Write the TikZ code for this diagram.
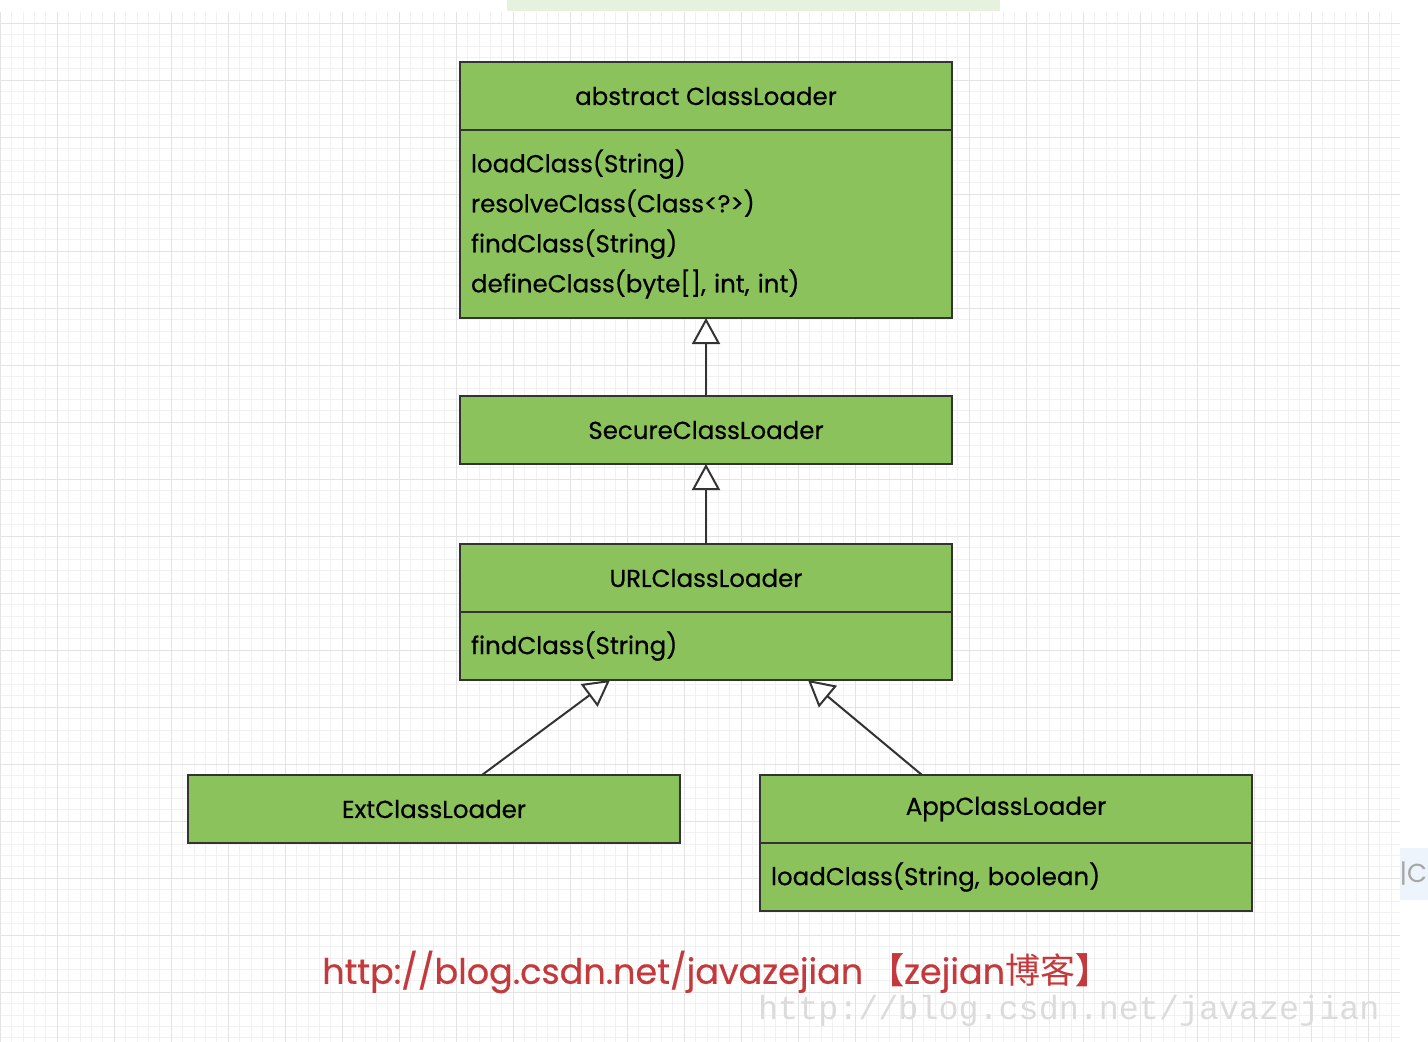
\documentclass[tikz,border=0pt]{standalone}
\usepackage{fontspec}
\setmainfont{Poppins}
\newfontfamily\umlfont{Poppins}[FakeBold=0.5]
\newfontfamily\cjk{Noto Sans CJK SC}
\newfontfamily\markfont{Liberation Mono}
\usetikzlibrary{positioning, arrows.meta, calc}

\definecolor{umlgreen}{HTML}{8BC25B}
\definecolor{umlline}{HTML}{333333}
\definecolor{blogred}{HTML}{C4393C}
\definecolor{gridminor}{HTML}{F1F1F1}
\definecolor{gridmajor}{HTML}{E3E3E3}
\definecolor{tabgreen}{HTML}{E6F2DD}
\definecolor{tabblue}{HTML}{EEF4FC}

\tikzset{
    classhead/.style={draw=umlline, line width=2pt, fill=umlgreen, outer sep=0pt,
        minimum width=492pt, minimum height=68pt, text=black,
        font=\umlfont\fontsize{24.5}{40}\selectfont},
    classbody/.style={classhead, align=left, text width=470pt, inner xsep=11pt},
    inherit/.style={draw=umlline, line width=2pt,
        -{Triangle[length=26pt, width=28pt, fill=white]}}
}

\begin{document}
\begin{tikzpicture}[x=1pt, y=-1pt]
    \useasboundingbox (0,0) rectangle (1428,1042);

    % background grid
    \begin{scope}[yshift=-23pt]
        \clip (0,-11) rectangle (1400,1019);
        \draw[gridminor, line width=0.6pt, step=11.4pt] (0,-23) grid (1400,1025);
        \draw[gridmajor, line width=1pt, step=57pt] (0,-23) grid (1400,1025);
    \end{scope}
    \fill[tabgreen] (507,0) rectangle (1000,11);
    \fill[tabblue] (1400,848) rectangle (1428,900);
    \begin{scope}
        \clip (1400,848) rectangle (1428,900);
        \node[anchor=west, text=black!35, font=\fontsize{26}{26}\selectfont]
            (cut) at (1396,874) {|C};
    \end{scope}

    % classes
    \node[classhead] (cl) at (706,96) {abstract ClassLoader};
    \node[classbody, minimum height=188pt, below=0pt of cl] (clm)
        {loadClass(String)\\resolveClass(Class<?>)\\findClass(String)\\defineClass(byte[], int, int)};
    \node[classhead] (secure) at (706,430) {SecureClassLoader};
    \node[classhead] (url) at (706,578) {URLClassLoader};
    \node[classbody, below=0pt of url] (urlm) {findClass(String)};
    \node[classhead] (ext) at (434,809) {ExtClassLoader};
    \node[classhead] (app) at (1006,809) {AppClassLoader};
    \node[classbody, below=0pt of app] (appm) {loadClass(String, boolean)};

    \draw[inherit] (secure) -- (clm);
    \draw[inherit] (url) -- (secure);
    \draw[inherit] ([xshift=48pt]ext.north) -- ([xshift=-96pt]urlm.south);
    \draw[inherit] ([xshift=-84pt]app.north) -- ([xshift=102pt]urlm.south);

    % blog address
    \node[anchor=west, text=blogred, font=\umlfont\fontsize{35}{35}\selectfont, inner sep=0pt]
        (blog) at (322,972) {http://blog.csdn.net/javazejian\,{\cjk\bfseries 【}zejian{\cjk 博客}{\cjk\bfseries 】}};
    \node[anchor=west, text=black!14, font=\markfont\fontsize{33.4}{33}\selectfont, inner sep=0pt]
        (mark) at (758,1011) {http://blog.csdn.net/javazejian};
\end{tikzpicture}
\end{document}
